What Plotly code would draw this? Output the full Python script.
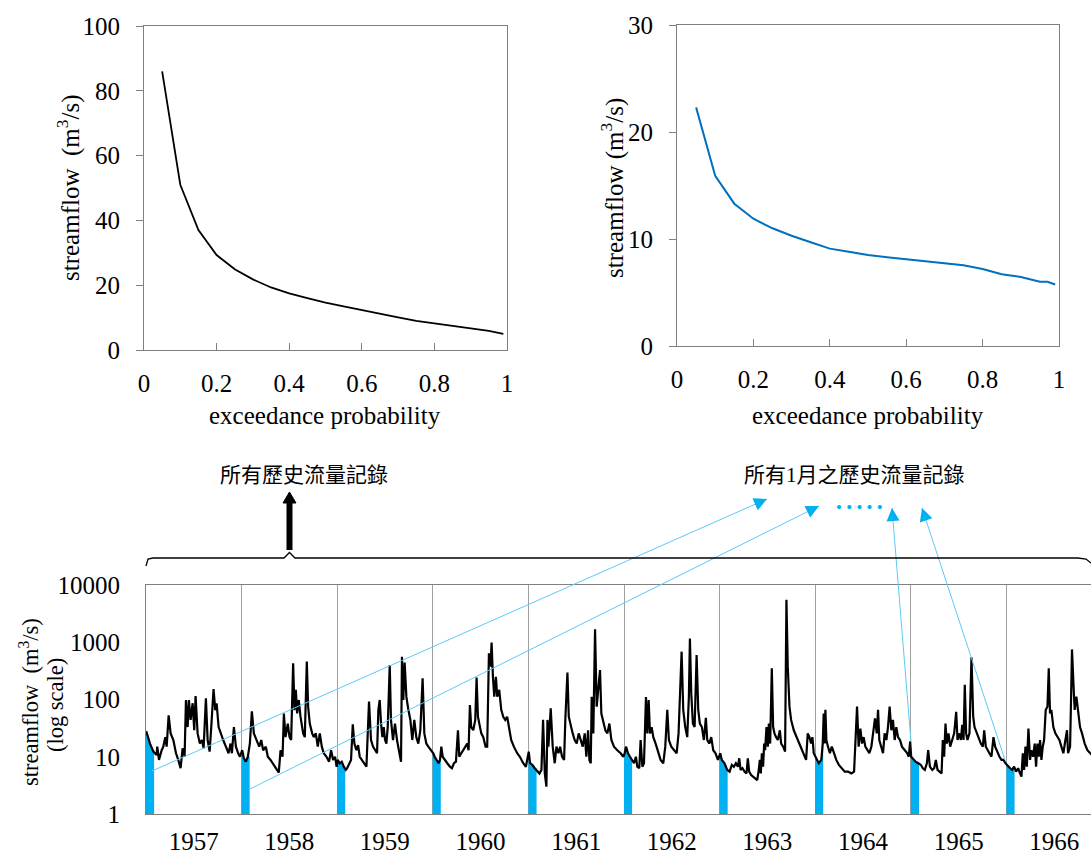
import pandas as pd
import plotly.graph_objects as go

W, H = 1091, 854
FONT = "Liberation Serif, Noto Sans CJK TC, serif"

# ---------------- flow duration curves ----------------
prob_all = [0.05, 0.10, 0.15, 0.20, 0.25, 0.30, 0.35, 0.40, 0.45, 0.50,
            0.55, 0.60, 0.65, 0.70, 0.75, 0.80, 0.85, 0.90, 0.95, 0.99]
flow_all = [86, 51, 37, 29.3, 24.9, 21.8, 19.3, 17.5, 16, 14.6,
            13.5, 12.3, 11.3, 10.1, 9.0, 8.2, 7.5, 6.7, 5.9, 5.0]

prob_jan = [0.05, 0.10, 0.15, 0.20, 0.25, 0.30, 0.35, 0.40, 0.45, 0.50,
            0.55, 0.60, 0.65, 0.70, 0.75, 0.80, 0.85, 0.90, 0.95, 0.97, 0.99]
flow_jan = [22.3, 15.9, 13.3, 11.9, 11.0, 10.3, 9.7, 9.1, 8.8, 8.5,
            8.3, 8.1, 7.9, 7.7, 7.55, 7.2, 6.7, 6.45, 6.0, 6.0, 5.75]

# ---------------- daily hydrograph (fraction of year, m3/s) ----------------
t1957 = [0.002, 0.042, 0.077, 0.111, 0.118, 0.136, 0.164, 0.181, 0.202, 0.216, 0.237, 0.258, 0.286, 0.314,
         0.338, 0.362, 0.383, 0.404, 0.418, 0.436, 0.449, 0.467, 0.488, 0.505, 0.519, 0.540, 0.564, 0.585,
         0.603, 0.627, 0.645, 0.666, 0.683, 0.707, 0.725, 0.739, 0.760, 0.787, 0.808, 0.836, 0.864, 0.885,
         0.899, 0.920, 0.941, 0.965, 0.983]
q1957 = [28, 17, 12.3, 10.7, 15, 8.8, 13, 15, 22, 15, 53, 25.6, 19.6, 11.5,
         8.8, 6.3, 14, 10, 98, 33, 98, 44, 86, 29, 115, 25.6, 17, 19.6,
         14, 105, 19.6, 12.3, 33, 152, 65, 86, 33, 24, 19.6, 15, 11.5, 17,
         11.5, 33, 15, 11.5, 10]

t1958 = [0.007, 0.024, 0.045, 0.066, 0.087, 0.108, 0.129, 0.157, 0.185, 0.206, 0.226, 0.254, 0.275, 0.303,
         0.338, 0.366, 0.390, 0.408, 0.429, 0.443, 0.460, 0.484, 0.502, 0.519, 0.540, 0.554, 0.568, 0.582,
         0.599, 0.617, 0.645, 0.662, 0.683, 0.697, 0.714, 0.739, 0.756, 0.777, 0.798, 0.819, 0.840, 0.861,
         0.889, 0.916, 0.937, 0.958, 0.979, 0.995]
q1958 = [13, 9.4, 8.2, 10, 17, 62, 25.6, 19.6, 15, 19.6, 13, 15, 10, 8.8,
         7.2, 5.9, 5.3, 13, 10, 57, 22, 38, 22, 19.6, 428, 65, 147, 57,
         98, 50, 25.6, 22, 460, 75, 38, 25.6, 22, 25.6, 15, 25.6, 15, 11.5,
         10, 8.2, 13, 8.8, 10, 6.7]

t1959 = [0.007, 0.028, 0.049, 0.070, 0.091, 0.105, 0.129, 0.146, 0.164, 0.181, 0.202, 0.220, 0.237, 0.258,
         0.286, 0.307, 0.334, 0.355, 0.376, 0.397, 0.418, 0.432, 0.446, 0.460, 0.474, 0.488, 0.502, 0.516,
         0.530, 0.551, 0.564, 0.585, 0.606, 0.627, 0.648, 0.669, 0.679, 0.693, 0.707, 0.725, 0.746, 0.767,
         0.787, 0.808, 0.829, 0.850, 0.871, 0.895, 0.913, 0.934, 0.955, 0.983]
q1959 = [8.8, 7.7, 8.2, 6.7, 5.9, 6.3, 7.7, 8.8, 37, 17, 13, 16, 10, 8.8,
         7.7, 6.7, 92, 19.6, 15, 13, 11.5, 66, 98, 38, 22, 33, 19.6, 17,
         33, 400, 44, 19.6, 38, 19.6, 13, 8.2, 560, 98, 440, 112, 66, 44,
         19.6, 44, 22, 17, 29, 234, 25.6, 17, 15, 13]

t1960 = [0.007, 0.021, 0.042, 0.063, 0.077, 0.091, 0.105, 0.125, 0.153, 0.181, 0.202, 0.223, 0.244, 0.265,
         0.279, 0.300, 0.321, 0.345, 0.362, 0.376, 0.390, 0.404, 0.425, 0.446, 0.460, 0.474, 0.491, 0.509,
         0.530, 0.554, 0.571, 0.589, 0.606, 0.617, 0.631, 0.645, 0.662, 0.676, 0.697, 0.718, 0.739, 0.760,
         0.780, 0.801, 0.822, 0.850, 0.885, 0.913, 0.948, 0.976]
q1960 = [11.5, 10, 8.8, 7.7, 8.8, 15, 10, 8.8, 7.7, 6.7, 6.3, 7.7, 8.2, 29,
         10, 11.5, 13, 15, 17, 13, 80, 33, 29, 44, 243, 50, 33, 25.6,
         22, 15, 15, 640, 375, 985, 250, 112, 250, 112, 147, 66, 50, 44,
         50, 29, 19.6, 15, 11.5, 10, 7.7, 6.7]

t1961 = [0.003, 0.017, 0.042, 0.066, 0.094, 0.115, 0.136, 0.153, 0.171, 0.188, 0.199, 0.209, 0.233, 0.254,
         0.275, 0.293, 0.314, 0.331, 0.352, 0.373, 0.387, 0.408, 0.422, 0.443, 0.463, 0.484, 0.505, 0.526,
         0.547, 0.568, 0.589, 0.606, 0.624, 0.638, 0.652, 0.662, 0.679, 0.697, 0.714, 0.728, 0.749, 0.763,
         0.784, 0.805, 0.826, 0.847, 0.868, 0.895, 0.930, 0.965, 0.993]
q1961 = [12.3, 7.7, 7.2, 6.3, 5.5, 5.1, 5.9, 44, 5.1, 3.0, 44, 15, 70, 15,
         7.7, 15, 11.5, 15, 10, 8.8, 50, 295, 50, 33, 25.6, 19.6, 17, 25.6,
         19.6, 15, 25.6, 10, 29, 8.8, 7.7, 112, 25.6, 1680, 75, 147, 327, 57,
         38, 29, 25.6, 38, 19.6, 15, 13, 11.5, 10]

t1962 = [0.007, 0.021, 0.042, 0.063, 0.084, 0.105, 0.125, 0.139, 0.160, 0.174, 0.192, 0.209, 0.230, 0.244,
         0.258, 0.272, 0.289, 0.307, 0.331, 0.355, 0.383, 0.411, 0.432, 0.453, 0.470, 0.495, 0.523, 0.551,
         0.571, 0.585, 0.603, 0.620, 0.641, 0.662, 0.679, 0.690, 0.704, 0.721, 0.739, 0.760, 0.777, 0.794,
         0.815, 0.836, 0.857, 0.871, 0.892, 0.913, 0.934, 0.958, 0.983]
q1962 = [11.5, 15, 11.5, 10, 8.8, 7.7, 10, 6.7, 6.3, 19.6, 6.7, 7.7, 110, 25.6,
         98, 25.6, 33, 22, 17, 13, 8.8, 7.7, 15, 66, 19.6, 15, 13, 11.5,
         25.6, 112, 685, 66, 33, 22, 112, 1160, 128, 38, 33, 600, 66, 38,
         33, 19.6, 48, 19.6, 17, 22, 13, 11.5, 8.8]

t1963 = [0.007, 0.024, 0.052, 0.080, 0.105, 0.129, 0.150, 0.171, 0.192, 0.206, 0.220, 0.240, 0.261, 0.282,
         0.296, 0.310, 0.331, 0.352, 0.373, 0.394, 0.408, 0.422, 0.432, 0.443, 0.456, 0.467, 0.477, 0.491,
         0.505, 0.516, 0.530, 0.547, 0.561, 0.575, 0.592, 0.610, 0.631, 0.645, 0.666, 0.686, 0.700, 0.714,
         0.732, 0.749, 0.777, 0.805, 0.833, 0.861, 0.889, 0.906, 0.923, 0.941, 0.958, 0.972, 0.986]
q1963 = [11.5, 8.8, 7.7, 5.9, 5.5, 7.2, 6.7, 7.7, 6.7, 9.4, 5.9, 6.3, 5.5, 5.1,
         9.4, 5.5, 4.8, 4.5, 4.2, 3.9, 5.5, 8.8, 5.1, 11.5, 6.7, 17, 13, 33,
         15, 38, 17, 350, 33, 25.6, 22, 19.6, 29, 17, 15, 12.3, 5500, 375,
         75, 44, 29, 22, 17, 13, 10, 8.8, 25.6, 22, 17, 22, 11.5]

t1964 = [0.003, 0.017, 0.038, 0.065, 0.080, 0.090, 0.100, 0.108, 0.118, 0.135, 0.155, 0.175, 0.196, 0.222,
         0.249, 0.277, 0.310, 0.345, 0.380, 0.408, 0.422, 0.439, 0.456, 0.474, 0.491, 0.509, 0.526, 0.547,
         0.568, 0.589, 0.610, 0.627, 0.645, 0.659, 0.672, 0.693, 0.711, 0.728, 0.746, 0.763, 0.780, 0.798,
         0.815, 0.833, 0.850, 0.868, 0.889, 0.909, 0.937, 0.965, 0.980, 0.995]
q1964 = [10, 8.8, 7.7, 8.8, 17, 57, 17, 66, 19.6, 15, 11.5, 15, 11.5, 8.8,
         7.2, 6.3, 5.5, 5.5, 5.1, 5.5, 15, 75, 15, 31, 17, 22, 15, 13,
         11.5, 15, 25.6, 47, 25.6, 66, 19.6, 15, 11.5, 25.6, 19.6, 33, 75, 29,
         44, 19.6, 33, 22, 19.6, 15, 13, 11.5, 10, 18.5]

t1965 = [0.003, 0.028, 0.049, 0.077, 0.105, 0.125, 0.146, 0.167, 0.181, 0.199, 0.223, 0.244, 0.261, 0.279,
         0.300, 0.321, 0.334, 0.348, 0.362, 0.376, 0.394, 0.411, 0.432, 0.453, 0.474, 0.488, 0.509, 0.523,
         0.537, 0.551, 0.564, 0.578, 0.592, 0.613, 0.634, 0.652, 0.666, 0.690, 0.711, 0.732, 0.753, 0.767,
         0.784, 0.801, 0.822, 0.843, 0.864, 0.882, 0.906, 0.927, 0.948, 0.969, 0.990]
q1965 = [10, 8.8, 8.2, 7.7, 7.2, 6.3, 5.9, 7.7, 13, 6.7, 5.9, 6.3, 8.8, 5.9,
         5.5, 5.1, 19.6, 10, 38, 17, 25.6, 15, 19.6, 25.6, 61, 19.6, 25.6, 19.6,
         36, 19.6, 180, 25.6, 19.6, 25.6, 545, 50, 33, 25.6, 19.6, 17, 15, 29,
         15, 13, 11.5, 10, 22, 15, 11.5, 10, 8.8, 8.8, 7.7]

t1966 = [0.003, 0.017, 0.038, 0.059, 0.080, 0.101, 0.122, 0.143, 0.157, 0.171, 0.185, 0.199, 0.213, 0.230,
         0.247, 0.261, 0.279, 0.296, 0.310, 0.324, 0.338, 0.352, 0.366, 0.380, 0.394, 0.411, 0.429, 0.443,
         0.456, 0.470, 0.491, 0.512, 0.533, 0.554, 0.575, 0.596, 0.617, 0.634, 0.645, 0.666, 0.676, 0.686,
         0.704, 0.714, 0.732, 0.749, 0.770, 0.791, 0.819, 0.847, 0.875, 0.892]
q1966 = [7.2, 6.7, 6.3, 5.9, 6.7, 5.5, 6.3, 5.1, 4.5, 11.5, 5.9, 15, 6.7, 31,
         8.8, 13, 10, 17, 6.7, 17, 10, 19.6, 8.8, 15, 19.6, 66, 75, 350,
         57, 66, 33, 25.6, 22, 19.6, 15, 11.5, 19.6, 29, 11.5, 15, 98, 750,
         147, 66, 112, 57, 33, 25.6, 17, 13, 11.5, 10.8]

years = [1957, 1958, 1959, 1960, 1961, 1962, 1963, 1964, 1965, 1966]
series_t = [t1957, t1958, t1959, t1960, t1961, t1962, t1963, t1964, t1965, t1966]
series_q = [q1957, q1958, q1959, q1960, q1961, q1962, q1963, q1964, q1965, q1966]

label_all = "所有歷史流量記錄"
label_jan = "所有1月之歷史流量記錄"


def P(px, py):
    return px / W, 1 - py / H


fig = go.Figure()

# ---- top-left FDC
fig.add_trace(go.Scatter(x=prob_all, y=flow_all, mode="lines",
                         line=dict(color="black", width=1.8), xaxis="x", yaxis="y",
                         showlegend=False, hoverinfo="skip"))
# ---- top-right FDC (January)
fig.add_trace(go.Scatter(x=prob_jan, y=flow_jan, mode="lines",
                         line=dict(color="#0070C0", width=2), xaxis="x2", yaxis="y2",
                         showlegend=False, hoverinfo="skip"))

# ---- hydrograph
all_d, all_q = [], []
for yr, ts, qs in zip(years, series_t, series_q):
    start = pd.Timestamp(year=yr, month=1, day=1)
    dates = [start + pd.Timedelta(days=f * 365) for f in ts]
    all_d += dates
    all_q += qs
    # January fill
    jd = [d for d, f in zip(dates, ts) if f <= 0.085]
    jq = [q for q, f in zip(qs, ts) if f <= 0.085]
    end = start + pd.Timedelta(days=31)
    fx = [start] + jd + [end, end, start]
    fy = [jq[0]] + jq + [jq[-1], 1, 1]
    fig.add_trace(go.Scatter(x=fx, y=fy, mode="lines", fill="toself",
                             fillcolor="#00B0F0", line=dict(width=0, color="#00B0F0"),
                             xaxis="x3", yaxis="y3", showlegend=False, hoverinfo="skip"))

fig.add_trace(go.Scatter(x=all_d, y=all_q, mode="lines",
                         line=dict(color="black", width=2.2), xaxis="x3", yaxis="y3",
                         showlegend=False, hoverinfo="skip"))

GRAY = "#808080"
tickfont = dict(family=FONT, size=25, color="black")

common_top_x = dict(range=[0, 1], dtick=0.2, tick0=0, showline=True, mirror=True,
                    linecolor=GRAY, linewidth=1, ticks="inside", ticklen=7, tickcolor=GRAY,
                    showgrid=False, zeroline=False, tickfont=tickfont, ticklabelstandoff=11)
common_top_y = dict(showline=True, mirror=True, linecolor=GRAY, linewidth=1,
                    ticks="outside", ticklen=7, tickcolor=GRAY, showgrid=False,
                    zeroline=False, tickfont=tickfont, ticklabelstandoff=11)

fig.update_layout(
    width=W, height=H, autosize=False,
    margin=dict(l=0, r=0, t=0, b=0, pad=0, autoexpand=False),
    paper_bgcolor="white", plot_bgcolor="white",
    showlegend=False,
    xaxis=dict(domain=[144 / W, 507 / W], anchor="y", automargin=False, **common_top_x),
    yaxis=dict(domain=[1 - 350 / H, 1 - 26 / H], anchor="x", range=[0, 100], dtick=20,
               automargin=False, **common_top_y),
    xaxis2=dict(domain=[677 / W, 1059 / W], anchor="y2", automargin=False, **common_top_x),
    yaxis2=dict(domain=[1 - 346 / H, 1 - 25 / H], anchor="x2", range=[0, 30], dtick=10,
                automargin=False, **common_top_y),
    xaxis3=dict(domain=[146 / W, 1.0], anchor="y3", type="date",
                range=["1957-01-01", "1966-11-20"], dtick="M12", tick0="1957-01-01",
                ticklabelmode="period", tickformat="%Y", showgrid=True,
                gridcolor="#A0A0A0", gridwidth=1, showline=True, mirror=True,
                linecolor=GRAY, linewidth=1, ticks="", tickfont=tickfont,
                ticklabelstandoff=5, zeroline=False, automargin=False),
    yaxis3=dict(domain=[1 - 814 / H, 1 - 585 / H], anchor="x3", type="log",
                range=[0, 4], tickvals=[1, 10, 100, 1000, 10000],
                ticktext=["1", "10", "100", "1000", "10000"], showline=True,
                linecolor=GRAY, linewidth=1, ticks="", showgrid=False,
                tickfont=tickfont, ticklabelstandoff=20, zeroline=False,
                automargin=False),
)

ann = []
txtfont = dict(family=FONT, size=25, color="black")


def text(px, py, s, angle=0, font=txtfont):
    x, y = P(px, py)
    ann.append(dict(x=x, y=y, xref="paper", yref="paper", text=s, showarrow=False,
                    textangle=angle, xanchor="center", yanchor="middle", font=font))


text(68, 188, "streamflow\u00a0\u00a0(m<sup>3</sup>/s)", angle=-90)
text(612, 188, "streamflow (m<sup>3</sup>/s)", angle=-90)
text(325, 415, "exceedance probability")
text(868, 415, "exceedance probability")
small = dict(family=FONT, size=22.5, color="black")
text(29, 702, "streamflow\u00a0\u00a0(m<sup>3</sup>/s)", angle=-90, font=small)
text(55, 705, "(log scale)", angle=-90, font=small)
cjk = dict(family="Liberation Serif, Noto Sans CJK TC", size=21, color="black")
text(304, 475, label_all, font=cjk)
text(854, 475, label_jan, font=cjk)
text(859, 507, "•\u00a0•\u00a0•\u00a0•\u00a0•", font=dict(family=FONT, size=17, color="#00B0F0"))

shapes = []
LIGHT = "#5DC9F5"
HEAD = "#00B0F0"
arrows = [((152, 771), (767, 499)),
          ((250, 789), (819, 506)),
          ((911, 742), (892, 508)),
          ((1005, 760), (922, 508))]
for (sx, sy), (tx, ty) in arrows:
    x0, y0 = P(sx, sy)
    x1, y1 = P(tx, ty)
    shapes.append(dict(type="line", xref="paper", yref="paper", x0=x0, y0=y0, x1=x1, y1=y1,
                       line=dict(color=LIGHT, width=1)))
    dx, dy = sx - tx, sy - ty
    n = (dx * dx + dy * dy) ** 0.5
    ann.append(dict(x=x1, y=y1, xref="paper", yref="paper", text="", showarrow=True,
                    ax=dx / n * 14, ay=dy / n * 14, arrowhead=2, arrowsize=2.6,
                    arrowwidth=1, arrowcolor=HEAD, standoff=0))

# curly bracket
pts = [(146, 566), (148, 559), (153, 558), (284, 558), (289.5, 552.5), (295, 558),
       (1078, 558), (1086, 559), (1091, 563)]
path = "M " + " L ".join("%.5f,%.5f" % P(x, y) for x, y in pts)
shapes.append(dict(type="path", xref="paper", yref="paper", path=path,
                   line=dict(color="black", width=1.3)))
# black up arrow
x0, y0 = P(289.5, 550)
x1, y1 = P(289.5, 501)
shapes.append(dict(type="line", xref="paper", yref="paper", x0=x0, y0=y0, x1=x1, y1=y1,
                   line=dict(color="black", width=6)))
head = "M %.5f,%.5f L %.5f,%.5f L %.5f,%.5f Z" % (*P(283, 503), *P(296, 503), *P(289.5, 492))
shapes.append(dict(type="path", xref="paper", yref="paper", path=head,
                   fillcolor="black", line=dict(color="black", width=1)))

fig.update_layout(annotations=ann, shapes=shapes)
fig.write_html("out.html")
